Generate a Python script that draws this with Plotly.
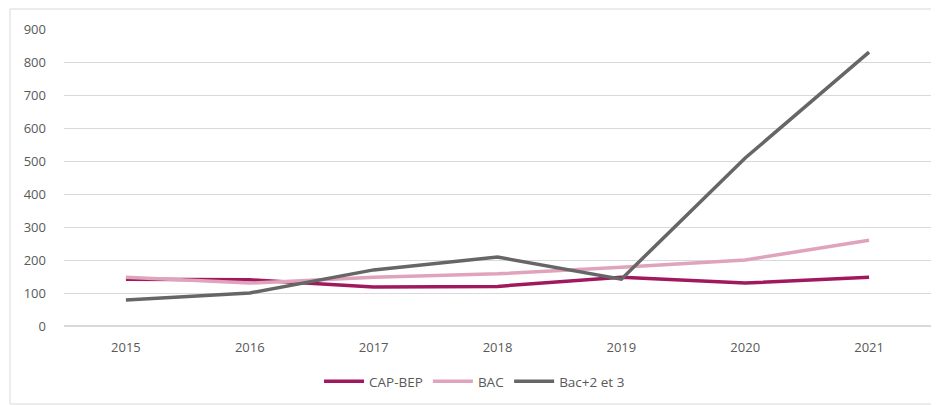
import plotly.graph_objects as go

years = ["2015", "2016", "2017", "2018", "2019", "2020", "2021"]
cap_bep = [142, 140, 118, 120, 148, 130, 148]
bac = [148, 130, 148, 158, 178, 200, 260]
bac23 = [79, 100, 170, 209, 142, 509, 830]
series_names = ["CAP-BEP", "BAC", "Bac+2 et 3"]
colors = ["#A0195F", "#E0A3BC", "#666666"]

# page body has an 8px margin, so the figure is offset by 8px
W, H = 931, 397
L, R, T, B = 56, 8, 21, 79

fig = go.Figure()
for name, vals, col in zip(series_names, [cap_bep, bac, bac23], colors):
    fig.add_trace(go.Scatter(x=years, y=vals, name=name, mode="lines",
                             line=dict(color=col, width=3.5)))

pw = W - L - R
ph = H - T - B
fig.add_shape(type="rect", xref="paper", yref="paper",
              x0=(2 - L) / pw, x1=(929 - L) / pw,
              y0=(H - B - 396) / ph, y1=(H - B - 1) / ph,
              line=dict(color="#d9d9d9", width=1), layer="below")

fig.update_layout(
    width=W, height=H,
    margin=dict(l=L, r=R, t=T, b=B),
    plot_bgcolor="white", paper_bgcolor="white",
    font=dict(family="Open Sans", size=13, color="#595959"),
    showlegend=True,
    legend=dict(orientation="h", x=0.4735, xanchor="center", y=-0.135, yanchor="top",
                font=dict(size=13.5, color="#595959"), itemwidth=40),
    xaxis=dict(type="category", showgrid=False, showline=False, zeroline=False,
               ticks="", tickfont=dict(size=13, color="#595959"), range=[-0.5, 6.5],
               ticklabelstandoff=12),
    yaxis=dict(range=[0, 900], dtick=100, showgrid=True, gridcolor="#d9d9d9",
               zeroline=True, zerolinecolor="#d9d9d9", showline=False, ticks="",
               tickfont=dict(size=13, color="#595959"), ticklabelstandoff=17),
)

fig.write_html("out.html")
